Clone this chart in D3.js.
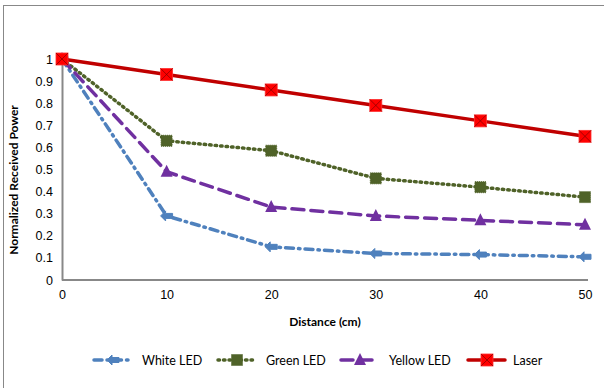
<!DOCTYPE html>
<html lang="en">
<head>
<meta charset="UTF-8">
<script src="https://cdnjs.cloudflare.com/ajax/libs/d3/7.9.0/d3.min.js"></script>
<title>Normalized Received Power</title>
<style>
    body { margin: 0; padding: 0; background: #fff; }
    svg { display: block; font-family: Lato, "Open Sans", sans-serif; }
</style>
</head>
<body>
<div id="chart"></div>
<script>
// data
const distances = [0, 10, 20, 30, 40, 50];
const whiteLed = [1, 0.29, 0.15, 0.12, 0.115, 0.105];
const greenLed = [1, 0.63, 0.585, 0.46, 0.42, 0.375];
const yellowLed = [1, 0.49, 0.33, 0.29, 0.27, 0.25];
const laser = [1, 0.93, 0.86, 0.79, 0.72, 0.65];
const yTicks = [0, 0.1, 0.2, 0.3, 0.4, 0.5, 0.6, 0.7, 0.8, 0.9, 1];
const seriesNames = ["White LED", "Green LED", "Yellow LED", "Laser"];

const series = [
    { name: seriesNames[0], values: whiteLed, color: "#4F81BD", dash: "8,5,1.5,5", marker: "arrow" },
    { name: seriesNames[1], values: greenLed, color: "#4F6228", dash: "1.5,4", marker: "square" },
    { name: seriesNames[2], values: yellowLed, color: "#7030A0", dash: "12,7", marker: "triangle" },
    { name: seriesNames[3], values: laser, color: "#C00000", dash: null, marker: "xsquare" }
];

const W = 604, H = 388;
const svg = d3.select("#chart").append("svg").attr("width", W).attr("height", H);

// outer frame
svg.append("rect").attr("x", 3.5).attr("y", 5.5).attr("width", 610).attr("height", 400)
    .attr("fill", "none").attr("stroke", "#888").attr("stroke-width", 1);

const x = d3.scaleLinear().domain([0, 50]).range([62, 585]);
const y = d3.scaleLinear().domain([0, 1]).range([280, 59]);

// y axis
const yAxis = svg.append("g").attr("transform", "translate(62,0)")
    .call(d3.axisLeft(y).tickValues(yTicks).tickSize(0).tickPadding(9).tickFormat(d => d3.format("")(+d.toFixed(1))));
yAxis.select(".domain").attr("stroke", "#888").attr("stroke-width", 2);
yAxis.selectAll("text").attr("font-size", 12.5).attr("fill", "#000");

// x axis
const xAxis = svg.append("g").attr("transform", "translate(0,280)")
    .call(d3.axisBottom(x).tickValues(distances).tickSize(0).tickPadding(10));
xAxis.select(".domain").attr("stroke", "#888").attr("stroke-width", 2);
xAxis.selectAll("text").attr("font-size", 12.5).attr("fill", "#000");
xAxis.select(".domain").attr("d", "M62,0H588");

// axis titles
svg.append("text").attr("x", 325).attr("y", 326).attr("text-anchor", "middle")
    .attr("font-size", 12).attr("font-weight", "bold").text("Distance (cm)");
svg.append("text").attr("transform", "translate(18,180) rotate(-90)").attr("text-anchor", "middle")
    .attr("font-size", 12).attr("font-weight", "bold").text("Normalized Received Power");

function drawMarker(g, type, color, cx, cy) {
    if (type === "square") {
        g.append("rect").attr("x", cx - 5.5).attr("y", cy - 5.5).attr("width", 11).attr("height", 11)
            .attr("fill", color).attr("stroke", color).attr("stroke-dasharray", "1,1");
    } else if (type === "triangle") {
        g.append("path").attr("d", `M${cx},${cy - 7}L${cx + 6},${cy + 5}L${cx - 6},${cy + 5}Z`)
            .attr("fill", color);
    } else if (type === "arrow") {
        g.append("path").attr("d", `M${cx - 6},${cy}L${cx - 1},${cy - 5}L${cx - 1},${cy - 2.5}L${cx + 6},${cy - 2.5}L${cx + 6},${cy + 2.5}L${cx - 1},${cy + 2.5}L${cx - 1},${cy + 5}Z`)
            .attr("fill", color).attr("stroke", color).attr("stroke-width", 1).attr("stroke-linejoin", "round");
    } else if (type === "xsquare") {
        g.append("rect").attr("x", cx - 6).attr("y", cy - 6).attr("width", 12).attr("height", 12)
            .attr("fill", "#FF0000").attr("stroke", "#FF3030").attr("stroke-width", 0.8);
        g.append("path").attr("d", `M${cx - 6},${cy - 6}L${cx + 6},${cy + 6}M${cx + 6},${cy - 6}L${cx - 6},${cy + 6}`)
            .attr("stroke", "#800000").attr("stroke-width", 0.7);
    }
}

const line = d3.line().x((d, i) => x(distances[i])).y(d => y(d));

// draw lines bottom to top as in the reference (laser on top)
series.forEach(s => {
    const g = svg.append("g");
    g.append("path").datum(s.values).attr("d", line)
        .attr("fill", "none").attr("stroke", s.color).attr("stroke-width", 3.5)
        .attr("stroke-linecap", "round")
        .attr("stroke-dasharray", s.dash);
    s.values.forEach((v, i) => drawMarker(g, s.marker, s.color, x(distances[i]), y(v)));
});

// legend
const legendX = [93, 217, 340, 467];
series.forEach((s, i) => {
    const lg = svg.append("g").attr("transform", `translate(${legendX[i]},360)`);
    lg.append("line").attr("x1", 1).attr("x2", 38).attr("y1", 0).attr("y2", 0)
        .attr("stroke", s.color).attr("stroke-width", 3.5).attr("stroke-linecap", "round")
        .attr("stroke-dasharray", s.dash);
    drawMarker(lg, s.marker, s.color, 20, 0);
    lg.append("text").attr("x", i === 3 ? 46 : 49).attr("y", 4.5).attr("font-size", 12.5).attr("fill", "#000").text(s.name);
});
</script>
</body>
</html>
